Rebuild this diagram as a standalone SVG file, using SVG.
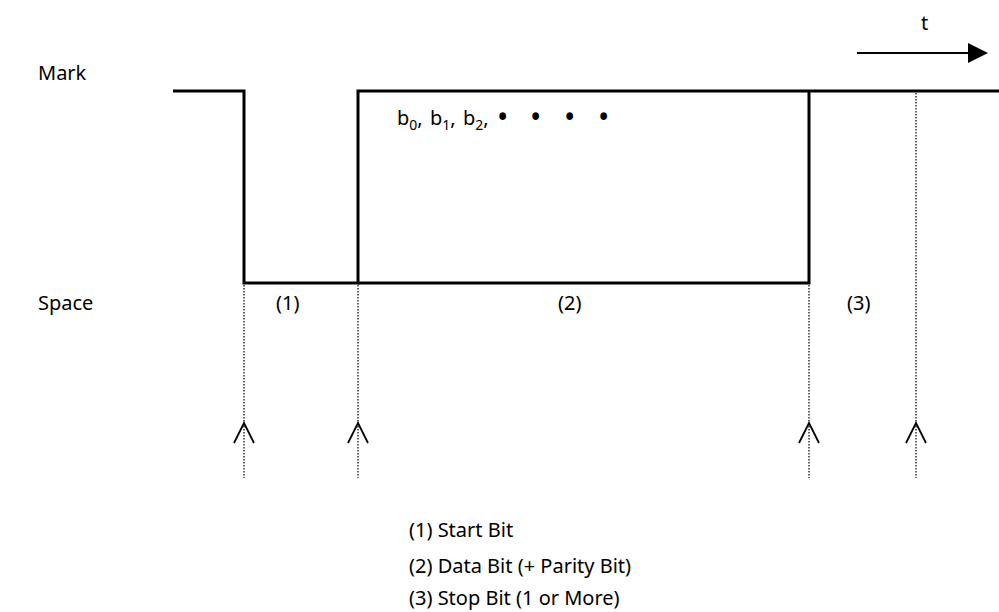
<svg xmlns="http://www.w3.org/2000/svg" width="999" height="612" viewBox="0 0 999 612">
<style>
text{font-family:"Noto Sans","Liberation Sans",sans-serif;font-size:20px;fill:#000}
.sub{font-size:14px}
.bul{font-size:30px}
.sig{fill:none;stroke:#000;stroke-width:3}
.dot{fill:none;stroke:#000;stroke-width:1.2;stroke-dasharray:1.5 1.5}
.tick{fill:none;stroke:#000;stroke-width:1.8}
</style>
<rect width="999" height="612" fill="#fff"/>
<g id="labels">
<text x="38" y="80">Mark</text>
<text x="38" y="310">Space</text>
<text x="276" y="310">(1)</text>
<text x="558" y="310">(2)</text>
<text x="847" y="310">(3)</text>
<text x="921" y="30">t</text>
<text y="125"><tspan x="397">b</tspan><tspan class="sub" dy="5">0</tspan><tspan dy="-5">,</tspan><tspan x="430">b</tspan><tspan class="sub" dy="5">1</tspan><tspan dy="-5">,</tspan><tspan x="463">b</tspan><tspan class="sub" dy="5">2</tspan><tspan dy="-5">,</tspan><tspan class="bul" dy="3" x="497">•</tspan><tspan class="bul" x="530">•</tspan><tspan class="bul" x="564">•</tspan><tspan class="bul" x="598">•</tspan></text>
</g>
<g id="legend">
<text x="409" y="537">(1) Start Bit</text>
<text x="409" y="573">(2) Data Bit (+ Parity Bit)</text>
<text x="409" y="605">(3) Stop Bit (1 or More)</text>
</g>
<g id="connectors">
<polyline class="sig" points="173,91 244,91 244,283 358,283 358,91 999,91"/>
<polyline class="sig" points="358,283 809,283 809,91"/>
<line class="dot" x1="244" y1="285" x2="244" y2="478"/>
<line class="dot" x1="358" y1="285" x2="358" y2="478"/>
<line class="dot" x1="809" y1="285" x2="809" y2="478"/>
<line class="dot" x1="916" y1="93" x2="916" y2="478"/>
<polyline class="tick" points="234,443 244,423 254,443"/>
<polyline class="tick" points="348,443 358,423 368,443"/>
<polyline class="tick" points="799,443 809,423 819,443"/>
<polyline class="tick" points="906,443 916,423 926,443"/>
<line x1="857" y1="53" x2="970" y2="53" stroke="#000" stroke-width="2"/>
<polygon points="968,43 988,53 968,63" fill="#000"/>
</g>
</svg>
